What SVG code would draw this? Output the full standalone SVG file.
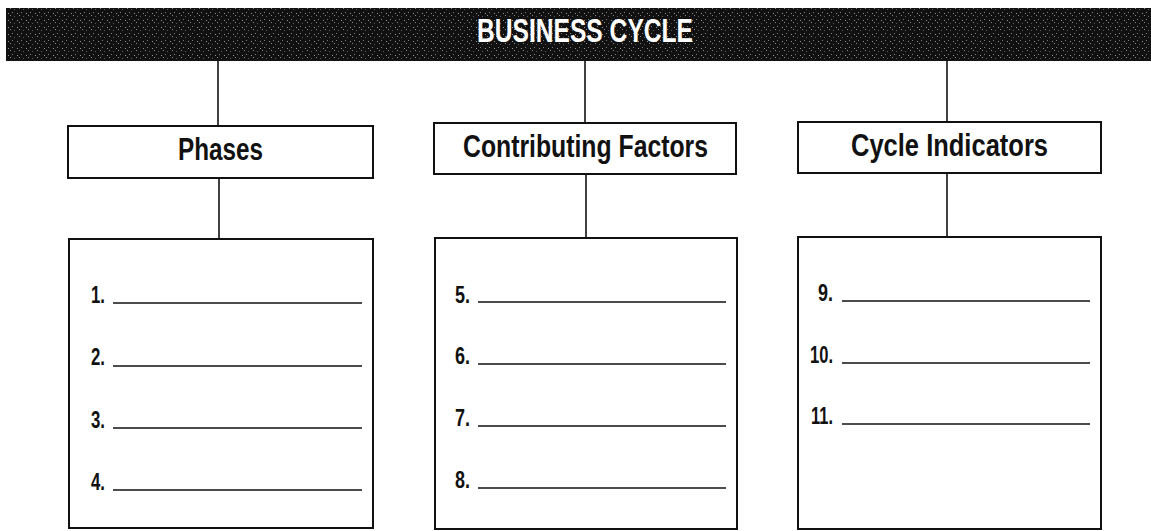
<svg xmlns="http://www.w3.org/2000/svg" width="1151" height="531" viewBox="0 0 1151 531">
<defs>
<pattern id="speck" width="9" height="7" patternUnits="userSpaceOnUse">
<rect width="9" height="7" fill="#111"/>
<rect x="1" y="1" width="1" height="1" fill="#8a8a8a"/>
<rect x="5" y="2" width="1" height="1" fill="#5a5a5a"/>
<rect x="3" y="5" width="1" height="1" fill="#7c7c7c"/>
<rect x="8" y="6" width="1" height="1" fill="#959595"/>
</pattern>
<style>
.box{fill:#fff;stroke:#111;stroke-width:2}
.conn{stroke:#111;stroke-width:1.6;fill:none}
.rule{stroke:#111;stroke-width:1.6}
.title{font-family:"Liberation Sans",Arial,sans-serif;font-weight:bold;font-size:31px;fill:#111;text-anchor:middle}
.num{font-family:"Liberation Sans",Arial,sans-serif;font-weight:bold;font-size:24px;fill:#111}
.head{font-family:"Liberation Sans",Arial,sans-serif;font-weight:bold;font-size:34px;fill:#fff;text-anchor:middle}
</style>
</defs>
<rect width="1151" height="531" fill="#fff"/>

<g id="header">
<rect x="6" y="8" width="1145" height="53" fill="url(#speck)"/>
<text class="head" x="585" y="42" textLength="216" lengthAdjust="spacingAndGlyphs">BUSINESS CYCLE</text>
</g>

<g id="connectors">
<line class="conn" x1="218" y1="61" x2="218" y2="126"/>
<line class="conn" x1="219" y1="178" x2="219" y2="239"/>
<line class="conn" x1="585" y1="61" x2="585" y2="123"/>
<line class="conn" x1="586" y1="174" x2="586" y2="237"/>
<line class="conn" x1="947" y1="61" x2="947" y2="122"/>
<line class="conn" x1="947" y1="173" x2="947" y2="236"/>
</g>

<g id="phases">
<rect class="box" x="68" y="126" width="305" height="52"/>
<text class="title" x="220.5" y="160" textLength="85" lengthAdjust="spacingAndGlyphs">Phases</text>
</g>
<g id="contributing-factors">
<rect class="box" x="434" y="123" width="302" height="51"/>
<text class="title" x="585.5" y="157" textLength="245" lengthAdjust="spacingAndGlyphs">Contributing Factors</text>
</g>
<g id="cycle-indicators">
<rect class="box" x="798" y="122" width="303" height="51"/>
<text class="title" x="949.5" y="156" textLength="197" lengthAdjust="spacingAndGlyphs">Cycle Indicators</text>
</g>

<g id="phases-list">
<rect class="box" x="69" y="239" width="304" height="289"/>
<text class="num" x="91" y="303" textLength="14" lengthAdjust="spacingAndGlyphs">1.</text>
<line class="rule" x1="113" y1="303" x2="362" y2="303"/>
<text class="num" x="91" y="365" textLength="14" lengthAdjust="spacingAndGlyphs">2.</text>
<line class="rule" x1="113" y1="366" x2="362" y2="366"/>
<text class="num" x="91" y="428" textLength="14" lengthAdjust="spacingAndGlyphs">3.</text>
<line class="rule" x1="113" y1="428" x2="362" y2="428"/>
<text class="num" x="91" y="490" textLength="14" lengthAdjust="spacingAndGlyphs">4.</text>
<line class="rule" x1="113" y1="490" x2="362" y2="490"/>
</g>

<g id="factors-list">
<rect class="box" x="435" y="238" width="302" height="291"/>
<text class="num" x="455" y="303" textLength="15" lengthAdjust="spacingAndGlyphs">5.</text>
<line class="rule" x1="478" y1="302" x2="726" y2="302"/>
<text class="num" x="455" y="364" textLength="15" lengthAdjust="spacingAndGlyphs">6.</text>
<line class="rule" x1="478" y1="364" x2="726" y2="364"/>
<text class="num" x="455" y="426" textLength="15" lengthAdjust="spacingAndGlyphs">7.</text>
<line class="rule" x1="478" y1="426" x2="726" y2="426"/>
<text class="num" x="455" y="488" textLength="15" lengthAdjust="spacingAndGlyphs">8.</text>
<line class="rule" x1="478" y1="488" x2="726" y2="488"/>
</g>

<g id="indicators-list">
<rect class="box" x="798" y="237" width="303" height="292"/>
<text class="num" x="833" y="301" text-anchor="end" textLength="15" lengthAdjust="spacingAndGlyphs">9.</text>
<line class="rule" x1="842" y1="301" x2="1090" y2="301"/>
<text class="num" x="833" y="363" text-anchor="end" textLength="23" lengthAdjust="spacingAndGlyphs">10.</text>
<line class="rule" x1="842" y1="363" x2="1090" y2="363"/>
<text class="num" x="833" y="424" text-anchor="end" textLength="22" lengthAdjust="spacingAndGlyphs">11.</text>
<line class="rule" x1="842" y1="424" x2="1090" y2="424"/>
</g>
</svg>
